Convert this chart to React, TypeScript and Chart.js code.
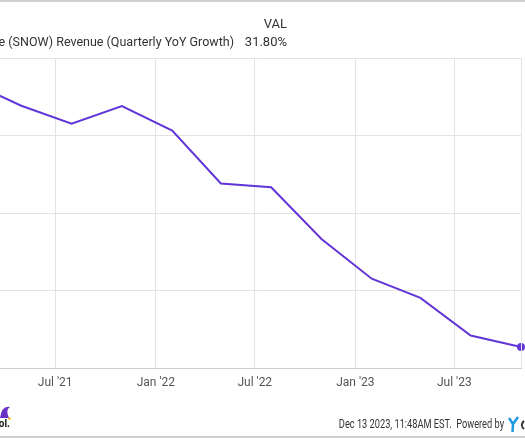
import React, { useEffect, useRef } from "react";
import { Chart, registerables } from "chart.js";

Chart.register(...registerables);

const PERIODS = [
  "2021-01-31", "2021-04-30", "2021-07-31", "2021-10-31",
  "2022-01-31", "2022-04-30", "2022-07-31", "2022-10-31",
  "2023-01-31", "2023-04-30", "2023-07-31", "2023-10-31",
];
const GROWTH = [116.9, 109.6, 103.8, 109.5, 101.6, 84.5, 83.3, 66.6, 53.8, 47.6, 35.5, 31.8];
const TICK_DATES = ["2021-07-01", "2022-01-01", "2022-07-01", "2023-01-01", "2023-07-01"];
const TICK_LABELS = ["Jul '21", "Jan '22", "Jul '22", "Jan '23", "Jul '23"];
const X_START = "2021-03-22";
const X_END = "2023-10-31";
const Y_MIN = 25;
const Y_MAX = 125;
const Y_STEP = 25;
const SERIES_NAME = "Snowflake (SNOW) Revenue (Quarterly YoY Growth)";
const LAST_VALUE = "31.80%";
const FOOTER = "Dec 13 2023, 11:48AM EST.  Powered by";

const PURPLE = "#6236d6";
const FONT = "Roboto, 'Noto Sans', sans-serif";

const decorPlugin = {
  id: "decor",
  afterDraw(chart: any) {
    const { ctx, chartArea } = chart;
    ctx.save();
    ctx.strokeStyle = "#e3e3e3";
    ctx.lineWidth = 1;
    ctx.beginPath();
    ctx.moveTo(chartArea.right + 0.5, chartArea.top);
    ctx.lineTo(chartArea.right + 0.5, chartArea.bottom);
    ctx.stroke();
    ctx.strokeStyle = "#cfcfcf";
    ctx.lineWidth = 2;
    ctx.beginPath();
    ctx.moveTo(0, 1);
    ctx.lineTo(525, 1);
    ctx.moveTo(0, 437);
    ctx.lineTo(525, 437);
    ctx.stroke();
    ctx.fillStyle = "#333";
    ctx.textBaseline = "middle";
    ctx.textAlign = "right";
    ctx.font = `13px ${FONT}`;
    ctx.fillText("VAL", 287, 25);
    ctx.fillText(LAST_VALUE, 287, 43);
    ctx.font = `12.5px ${FONT}`;
    ctx.fillText(SERIES_NAME, 234, 43);
    ctx.save();
    ctx.translate(504, 425);
    ctx.scale(0.77, 1);
    ctx.font = `12px ${FONT}`;
    ctx.fillText(FOOTER, 0, 0);
    ctx.restore();
    ctx.strokeStyle = "#1e9be0";
    ctx.lineWidth = 2.5;
    ctx.beginPath();
    ctx.moveTo(509, 418);
    ctx.lineTo(513, 424);
    ctx.lineTo(518, 417);
    ctx.moveTo(513, 424);
    ctx.lineTo(512.5, 432);
    ctx.stroke();
    ctx.strokeStyle = "#333";
    ctx.lineWidth = 2;
    ctx.beginPath();
    ctx.arc(527, 425, 5, Math.PI * 0.7, Math.PI * 1.3);
    ctx.stroke();
    ctx.fillStyle = "#6a2fc4";
    ctx.beginPath();
    ctx.moveTo(0, 418);
    ctx.quadraticCurveTo(2, 405, 10, 407);
    ctx.quadraticCurveTo(5, 410, 9, 418);
    ctx.closePath();
    ctx.fill();
    ctx.fillStyle = "#f0b400";
    ctx.beginPath();
    ctx.arc(9.5, 418.5, 1.2, 0, Math.PI * 2);
    ctx.fill();
    ctx.fillStyle = "#111";
    ctx.font = `bold 10px ${FONT}`;
    ctx.textAlign = "right";
    ctx.fillText("ol.", 10, 424);
    ctx.restore();
  },
};

export default function App() {
  const ref = useRef<HTMLCanvasElement>(null);
  useEffect(() => {
    if (!ref.current) return;
    const last = GROWTH.length - 1;
    const chart = new Chart(ref.current, {
      type: "line",
      data: {
        datasets: [
          {
            data: PERIODS.map((p, i) => ({ x: Date.parse(p), y: GROWTH[i] })),
            borderColor: PURPLE,
            backgroundColor: PURPLE,
            borderWidth: 2,
            tension: 0,
            clip: { left: 0, top: 0, right: 6, bottom: 0 },
            pointRadius: (c: any) => (c.dataIndex === last ? 4 : 0),
            pointHoverRadius: 0,
            pointBorderWidth: 0,
          },
        ],
      },
      options: {
        responsive: false,
        animation: false,
        events: [],
        layout: { autoPadding: false, padding: { top: 58, right: 4, left: 0, bottom: 40 } },
        plugins: { legend: { display: false }, tooltip: { enabled: false } },
        scales: {
          x: {
            type: "linear",
            min: Date.parse(X_START),
            max: Date.parse(X_END),
            afterBuildTicks: (s: any) => {
              s.ticks = TICK_DATES.map((d) => ({ value: Date.parse(d) }));
            },
            afterFit: (s: any) => {
              s.height = 30;
              s.paddingLeft = 0;
              s.paddingRight = 0;
            },
            grid: { color: "#e3e3e3", drawTicks: false },
            border: { color: "#cccccc", width: 1 },
            ticks: {
              padding: 8,
              maxRotation: 0,
              autoSkip: false,
              color: "#555",
              font: { family: FONT, size: 12 },
              callback: (_v: any, i: number) => TICK_LABELS[i],
            },
          },
          y: {
            min: Y_MIN,
            max: Y_MAX,
            afterFit: (s: any) => {
              s.width = 0;
            },
            grid: { color: "#e3e3e3", drawTicks: false },
            border: { display: false },
            ticks: { stepSize: Y_STEP, display: false },
          },
        },
      },
      plugins: [decorPlugin],
    } as any);
    return () => chart.destroy();
  }, []);
  return (
    <div style={{ position: "fixed", left: 0, top: 0, width: 525, height: 438, background: "#fff", overflow: "hidden" }}>
      <canvas ref={ref} width={525} height={438} style={{ display: "block", width: 525, height: 438 }} />
    </div>
  );
}
